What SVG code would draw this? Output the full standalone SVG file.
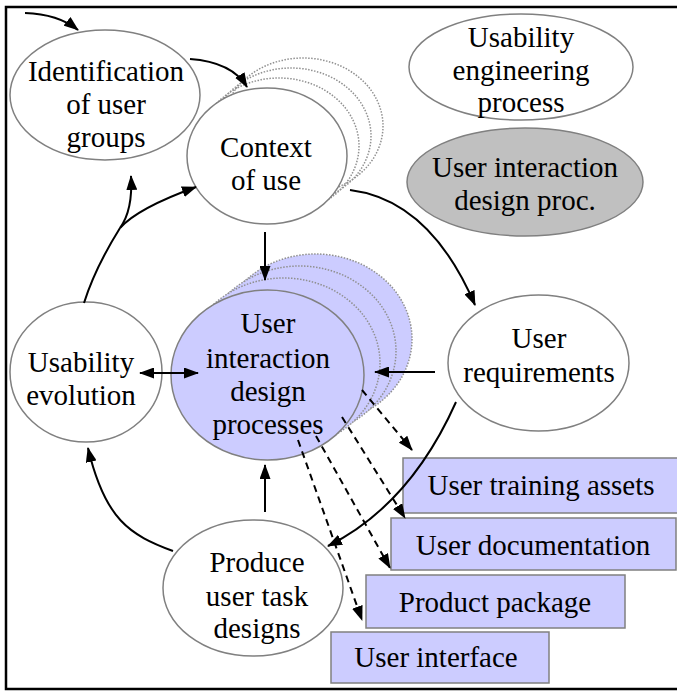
<svg xmlns="http://www.w3.org/2000/svg" width="677" height="691" viewBox="0 0 677 691">
<style>
.n{stroke:#808080;stroke-width:1.5}
.w{fill:#fff}
.b{fill:#ccccff}
.g{fill:#c0c0c0}
.dot{stroke:#909090;stroke-width:1.5;stroke-dasharray:1.5,1.5}
.c{fill:none;stroke:#000;stroke-width:2}
.d{stroke-dasharray:7,5}
</style>
<defs>
<marker id="ah" markerUnits="userSpaceOnUse" markerWidth="15" markerHeight="11" refX="14" refY="5.5" orient="auto-start-reverse" viewBox="0 0 15 11">
<path d="M0,0 L15,5.5 L0,11 z" fill="#000"/>
</marker>
</defs>
<rect width="677" height="691" fill="#fff"/>
<path d="M677,7 H6 V689 H677" fill="none" stroke="#000" stroke-width="2.5"/>
<g font-family="Liberation Serif, DejaVu Serif, serif" font-size="29" text-anchor="middle" fill="#000">
<g id="ident">
<ellipse class="n w" cx="105" cy="95" rx="95" ry="65"/>
<text x="106" y="81">Identification</text>
<text x="106" y="114">of user</text>
<text x="106" y="147">groups</text>
</g>

<g id="context">
<ellipse class="dot" fill="none" cx="303" cy="126" rx="80" ry="68"/>
<ellipse class="dot" fill="none" cx="291" cy="136" rx="80" ry="68"/>
<ellipse class="dot" fill="none" cx="279" cy="146" rx="80" ry="68"/>
<ellipse class="n w" cx="267" cy="156" rx="80" ry="68"/>
<text x="266" y="157">Context</text>
<text x="266" y="190">of use</text>
</g>

<g id="usability-eng">
<ellipse class="n w" cx="521" cy="67" rx="112" ry="53"/>
<text x="521" y="47">Usability</text>
<text x="521" y="80">engineering</text>
<text x="521" y="112">process</text>
</g>

<g id="uid-legend">
<ellipse class="n g" cx="525" cy="182" rx="118" ry="54"/>
<text x="525" y="177">User interaction</text>
<text x="525" y="210">design proc.</text>
</g>

<g id="requirements">
<ellipse class="n w" cx="538.5" cy="363" rx="90.5" ry="68"/>
<text x="539" y="348">User</text>
<text x="539" y="382">requirements</text>
</g>

<g id="evolution">
<ellipse class="n w" cx="86" cy="372" rx="76" ry="70"/>
<text x="81" y="372">Usability</text>
<text x="81" y="405">evolution</text>
</g>

<g id="uid-processes">
<ellipse class="dot b" cx="315.5" cy="339" rx="96.5" ry="85"/>
<ellipse class="dot b" cx="299.5" cy="351" rx="96.5" ry="85"/>
<ellipse class="dot b" cx="283.5" cy="363" rx="96.5" ry="85"/>
<ellipse class="n b" cx="267.5" cy="375" rx="96.5" ry="85"/>
<text x="268" y="333">User</text>
<text x="268" y="368">interaction</text>
<text x="268" y="401">design</text>
<text x="268" y="434">processes</text>
</g>

<g id="produce">
<ellipse class="n w" cx="253" cy="588" rx="90" ry="68"/>
<text x="257" y="572">Produce</text>
<text x="257" y="606">user task</text>
<text x="257" y="638">designs</text>
</g>

<g id="training">
<rect class="n b" x="403" y="458" width="276" height="55"/>
<text x="541" y="495">User training assets</text>
</g>
<g id="documentation">
<rect class="n b" x="391" y="518" width="285" height="52"/>
<text x="533" y="555">User documentation</text>
</g>
<g id="package">
<rect class="n b" x="366" y="575" width="259" height="53"/>
<text x="495" y="612">Product package</text>
</g>
<g id="interface">
<rect class="n b" x="331" y="632" width="218" height="51"/>
<text x="436" y="667">User interface</text>
</g>
</g>

<g id="connectors">
<path class="c" d="M25,13 Q58,14 78,30" marker-end="url(#ah)"/>
<path class="c" d="M190,59 Q232,62 247,87" marker-end="url(#ah)"/>
<path class="c" d="M84,303 Q95,268 120,228"/>
<path class="c" d="M120,228 Q133,210 131,176" marker-end="url(#ah)"/>
<path class="c" d="M120,228 Q138,208 196,187" marker-end="url(#ah)"/>
<path class="c" d="M350,190 Q430,200 475,305" marker-end="url(#ah)"/>
<path class="c" d="M265,232 L265,280" marker-end="url(#ah)"/>
<path class="c" d="M140,373 L198,373" marker-start="url(#ah)" marker-end="url(#ah)"/>
<path class="c" d="M435,372 L375,372" marker-end="url(#ah)"/>
<path class="c" d="M456,402 Q410,505 328,546" marker-end="url(#ah)"/>
<path class="c" d="M265,512 L265,465" marker-end="url(#ah)"/>
<path class="c" d="M173,551 C130,535 105,520 88,448" marker-end="url(#ah)"/>
<path class="c d" d="M362,390 L412,450" marker-end="url(#ah)"/>
<path class="c d" d="M342,417 L405,518" marker-end="url(#ah)"/>
<path class="c d" d="M316,436 L390,568" marker-end="url(#ah)"/>
<path class="c d" d="M298,440 L362,620" marker-end="url(#ah)"/>
</g>
</svg>
